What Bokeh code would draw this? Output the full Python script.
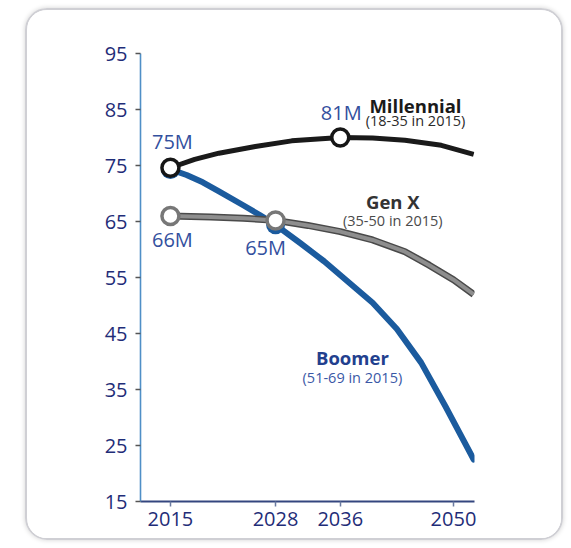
from bokeh.plotting import figure
from bokeh.models import Range1d, FixedTicker
from bokeh.core.properties import value
from bokeh.embed import file_html
from bokeh.resources import INLINE

# ---- data ----
mill_years = [2015, 2018, 2021, 2025.5, 2030, 2036, 2040, 2044, 2048.5, 2052.5]
mill_vals = [74.6, 76.1, 77.2, 78.4, 79.4, 80.0, 79.9, 79.5, 78.6, 77.0]

genx_years = [2015, 2020, 2024, 2028, 2032, 2036, 2040, 2044, 2047, 2050, 2052.5]
genx_vals = [66.0, 65.8, 65.6, 65.2, 64.3, 63.2, 61.7, 59.6, 57.2, 54.6, 52.0]

boom_years = [2015, 2017, 2019, 2021, 2024, 2026, 2028, 2031, 2034, 2037, 2040,
              2043, 2046, 2049, 2052.5]
boom_vals = [74.3, 73.3, 72.0, 70.4, 67.9, 66.2, 64.4, 61.2, 57.9, 54.2, 50.5,
             45.8, 39.8, 32.0, 22.5]

y_ticks = [15, 25, 35, 45, 55, 65, 75, 85, 95]
x_ticks = [2015, 2028, 2036, 2050]

# marked points (index into series) and their value labels
mill_marks = [0, 5]
mill_mark_labels = ["75M", "81M"]
genx_marks = [0, 3]
genx_mark_labels = ["66M", "65M"]
boom_marks = [0, 6]

series_names = ["Millennial", "Gen X", "Boomer"]
series_ranges = ["(18-35 in 2015)", "(35-50 in 2015)", "(51-69 in 2015)"]
name_x = [2045.3, 2042.5, 2037.5]
name_y = [85.8, 68.5, 40.8]
range_y = [83.0, 65.1, 37.1]

FONT = "Open Sans"
BLUE = "#1b5b9e"
NAVY = "#1f2d78"
VAL_BLUE = "#33509e"

p = figure(width=538, height=532,
           x_range=Range1d(2011.3, 2052.6), y_range=Range1d(15, 95),
           output_backend="svg", toolbar_location=None,
           min_border_left=113, min_border_right=91,
           min_border_top=43, min_border_bottom=41,
           margin=(8, 0, 0, 25),
           styles={"border": "2px solid #cfcfd4", "border-radius": "22px",
                   "overflow": "hidden",
                   "box-shadow": "0 0 5px rgba(0,0,0,0.18)"})
p.outline_line_color = None
p.grid.visible = False
p.background_fill_color = "white"
p.border_fill_color = "white"

# axes
p.yaxis.ticker = FixedTicker(ticks=y_ticks)
p.xaxis.ticker = FixedTicker(ticks=x_ticks)
p.xaxis.major_label_overrides = {t: str(t) for t in x_ticks}
for ax in (p.xaxis[0], p.yaxis[0]):
    ax.major_label_text_font = FONT
    ax.major_label_text_font_size = "20px"
    ax.major_label_text_color = NAVY
    ax.minor_tick_line_color = None
    ax.major_tick_in = 0
    ax.major_tick_out = 5
p.yaxis.axis_line_color = "#4f8fc7"
p.yaxis.axis_line_width = 1.6
p.yaxis.major_tick_line_color = "#555555"
p.yaxis.major_tick_line_width = 1.5
p.yaxis.major_label_standoff = 8
p.xaxis.axis_line_color = "#34467f"
p.xaxis.axis_line_width = 2
p.xaxis.major_tick_line_color = "#6a7aa0"
p.xaxis.major_tick_line_width = 1.5
p.xaxis.major_label_standoff = 5

# lines
p.line(boom_years, boom_vals, line_color=BLUE, line_width=6, line_cap="round", line_join="round")
p.line(genx_years, genx_vals, line_color="#4a4a4a", line_width=7, line_join="round")
p.line(genx_years, genx_vals, line_color="#8e8e8e", line_width=4, line_join="round")
p.line(mill_years, mill_vals, line_color="#1a1a1a", line_width=5, line_join="round")

# blue halos under the marked points (Boomer passes there)
p.scatter([boom_years[i] for i in boom_marks], [boom_vals[i] for i in boom_marks],
          size=19, fill_color=BLUE, line_color=None)

# markers
p.scatter([genx_years[i] for i in genx_marks], [genx_vals[i] for i in genx_marks],
          size=17, fill_color="white", line_color="#777777", line_width=3.5)
p.scatter([mill_years[i] for i in mill_marks], [mill_vals[i] for i in mill_marks],
          size=17, fill_color="white", line_color="#161616", line_width=3.5)

# value labels
txt = dict(text_font=value(FONT), text_font_size="20px", text_color=VAL_BLUE,
           text_align="center", text_baseline="middle")
p.text([mill_years[mill_marks[0]]], [mill_vals[mill_marks[0]]], text=[mill_mark_labels[0]],
       x_offset=2, y_offset=-26, **txt)
p.text([mill_years[mill_marks[1]]], [mill_vals[mill_marks[1]]], text=[mill_mark_labels[1]],
       x_offset=1, y_offset=-25, **txt)
p.text([genx_years[genx_marks[0]]], [genx_vals[genx_marks[0]]], text=[genx_mark_labels[0]],
       x_offset=2, y_offset=24, **txt)
p.text([genx_years[genx_marks[1]]], [genx_vals[genx_marks[1]]], text=[genx_mark_labels[1]],
       x_offset=-10, y_offset=27, **txt)

# series names
name_colors = ["#1a1a1a", "#333333", "#22408e"]
range_colors = ["#2a2a2a", "#4a4a4a", "#3a58a6"]
for i in range(3):
    p.text([name_x[i]], [name_y[i]], text=[series_names[i]], text_font=value(FONT),
           text_font_size="18.5px", text_font_style="bold", text_color=name_colors[i],
           text_align="center", text_baseline="middle")
    p.text([name_x[i]], [range_y[i]], text=[series_ranges[i]], text_font=value(FONT),
           text_font_size="14.5px", text_color=range_colors[i],
           text_align="center", text_baseline="middle")

open("out.html", "w").write(file_html(p, INLINE))
